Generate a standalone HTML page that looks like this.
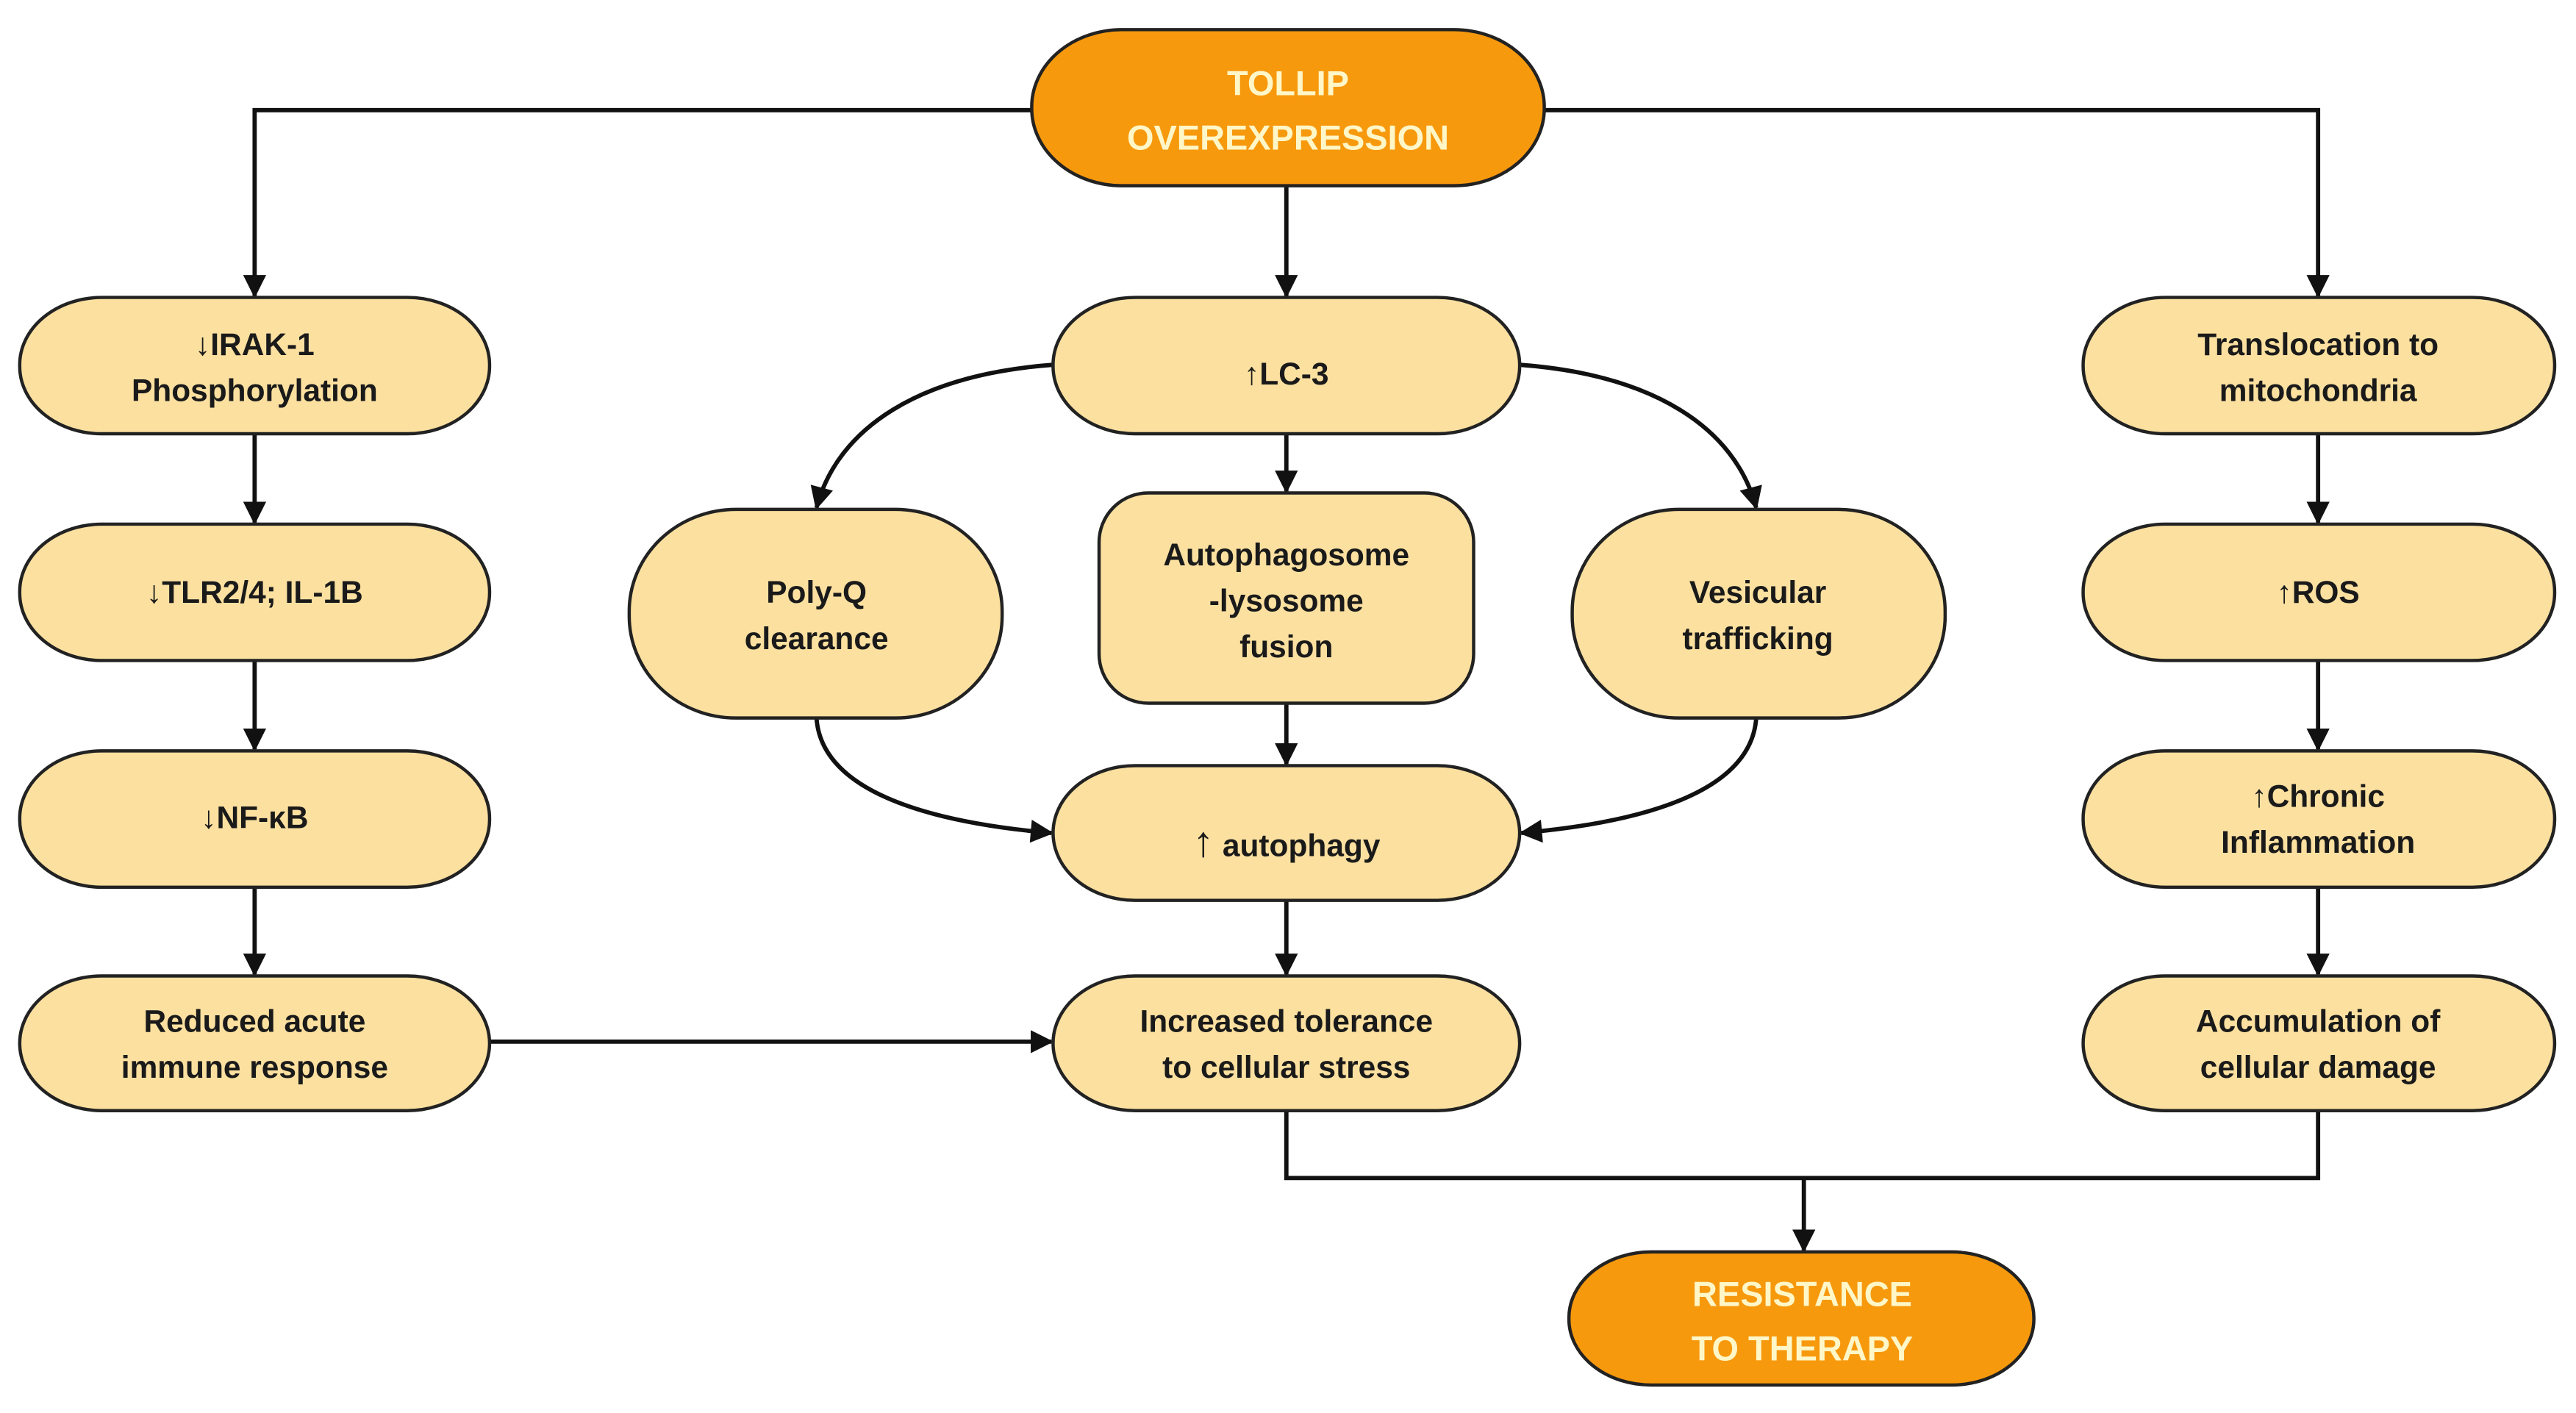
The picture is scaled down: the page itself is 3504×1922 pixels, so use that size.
<!DOCTYPE html>
<html><head><meta charset="utf-8"><style>
html,body{margin:0;padding:0;background:#fff}
svg{display:block}
text{font-family:"Liberation Sans",sans-serif;font-weight:bold;text-anchor:middle}
</style></head><body>
<svg width="3504" height="1922" viewBox="0 0 1568 860" xmlns="http://www.w3.org/2000/svg">
<defs>
<marker id="a" viewBox="0 0 10 10" refX="9" refY="5" markerWidth="7" markerHeight="7" markerUnits="userSpaceOnUse" orient="auto">
<path d="M0,0 L10,5 L0,10 z" fill="#111"/></marker>
<marker id="b" viewBox="0 0 10 10" refX="9" refY="5" markerWidth="16" markerHeight="14" markerUnits="userSpaceOnUse" orient="auto">
<path d="M0,0 L10,5 L0,10 z" fill="#111"/></marker>
</defs>
<g fill="none" stroke="#111" stroke-width="2.6">
<path d="M628 67 H155 V180" marker-end="url(#b)"/>
<path d="M940 67 H1411 V180" marker-end="url(#b)"/>
<path d="M783 113 V180" marker-end="url(#b)"/>
<path d="M155 264 V318" marker-end="url(#b)"/>
<path d="M155 402 V456" marker-end="url(#b)"/>
<path d="M155 540 V593" marker-end="url(#b)"/>
<path d="M1411 264 V318" marker-end="url(#b)"/>
<path d="M1411 402 V456" marker-end="url(#b)"/>
<path d="M1411 540 V593" marker-end="url(#b)"/>
<path d="M783 264 V299" marker-end="url(#b)"/>
<path d="M783 428 V465" marker-end="url(#b)"/>
<path d="M783 548 V593" marker-end="url(#b)"/>
<path d="M298 634 H640" marker-end="url(#b)"/>
<path d="M783 676 V717 H1411 V676"/>
<path d="M1098 717 V761" marker-end="url(#b)"/>
<path d="M641 222 C560 228 510 260 497 309" marker-end="url(#b)"/>
<path d="M925 222 C1006 228 1056 260 1069 309" marker-end="url(#b)"/>
<path d="M497 437 C500 480 560 500 640 507" marker-end="url(#b)"/>
<path d="M1069 437 C1066 480 1006 500 926 507" marker-end="url(#b)"/>
</g>
<g stroke="#222" stroke-width="2">
<rect x="628" y="18" width="312" height="95" rx="55" ry="47" fill="#f7990d"/>
<rect x="955" y="762" width="283" height="81" rx="50" ry="40" fill="#f7990d"/>
<g fill="#fbe0a0">
<rect x="12" y="181" width="286" height="83" rx="50" ry="41"/>
<rect x="12" y="319" width="286" height="83" rx="50" ry="41"/>
<rect x="12" y="457" width="286" height="83" rx="50" ry="41"/>
<rect x="12" y="594" width="286" height="82" rx="50" ry="41"/>
<rect x="1268" y="181" width="287" height="83" rx="50" ry="41"/>
<rect x="1268" y="319" width="287" height="83" rx="50" ry="41"/>
<rect x="1268" y="457" width="287" height="83" rx="50" ry="41"/>
<rect x="1268" y="594" width="287" height="82" rx="50" ry="41"/>
<rect x="641" y="181" width="284" height="83" rx="50" ry="41"/>
<rect x="641" y="466" width="284" height="82" rx="50" ry="41"/>
<rect x="641" y="594" width="284" height="82" rx="50" ry="41"/>
<rect x="383" y="310" width="227" height="127" rx="65" ry="62"/>
<rect x="957" y="310" width="227" height="127" rx="65" ry="62"/>
<rect x="669" y="300" width="228" height="128" rx="30" ry="30"/>
</g></g>
<g font-size="21" fill="#fff7c8">
<text x="784" y="58">TOLLIP</text>
<text x="784" y="91">OVEREXPRESSION</text>
<text x="1097" y="795">RESISTANCE</text>
<text x="1097" y="828">TO THERAPY</text>
</g>
<g font-size="19" fill="#1a1a1a">
<text x="155" y="216">↓IRAK-1</text>
<text x="155" y="244">Phosphorylation</text>
<text x="155" y="367">↓TLR2/4; IL-1B</text>
<text x="155" y="504">↓NF-κB</text>
<text x="155" y="628">Reduced acute</text>
<text x="155" y="656">immune response</text>
<text x="1411" y="216">Translocation to</text>
<text x="1411" y="244">mitochondria</text>
<text x="1411" y="367">↑ROS</text>
<text x="1411" y="491">↑Chronic</text>
<text x="1411" y="519">Inflammation</text>
<text x="1411" y="628">Accumulation of</text>
<text x="1411" y="656">cellular damage</text>
<text x="783" y="234">↑LC-3</text>
<text x="497" y="367">Poly-Q</text>
<text x="497" y="395">clearance</text>
<text x="783" y="344">Autophagosome</text>
<text x="783" y="372">-lysosome</text>
<text x="783" y="400">fusion</text>
<text x="1070" y="367">Vesicular</text>
<text x="1070" y="395">trafficking</text>
<text x="783" y="521"><tspan font-size="26" font-weight="normal">↑</tspan>  autophagy</text>
<text x="783" y="628">Increased tolerance</text>
<text x="783" y="656">to cellular stress</text>
</g>
</svg>
</body></html>
